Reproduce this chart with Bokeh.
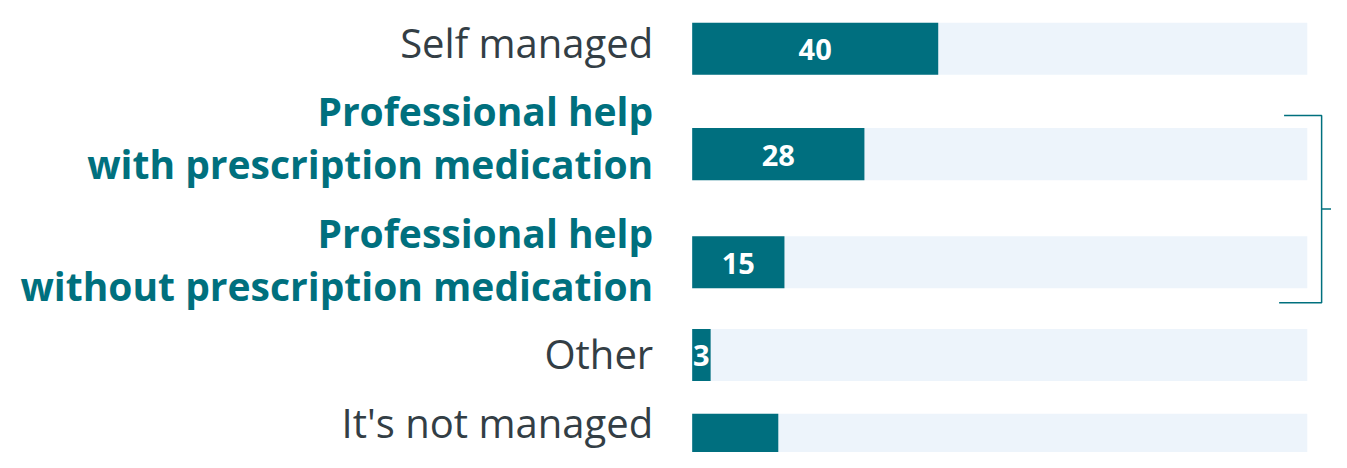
from bokeh.plotting import figure
from bokeh.models import Range1d, ColumnDataSource
from bokeh.core.properties import value
from bokeh.embed import file_html
from bokeh.resources import INLINE

# ---- data ----
categories = [
    ["Self managed"],
    ["Professional help", "with prescription medication"],
    ["Professional help", "without prescription medication"],
    ["Other"],
    ["It's not managed"],
]
values = [40, 28, 15, 3, 14]
value_labels = ["40", "28", "15", "3", ""]
highlighted = [False, True, True, False, False]
scale_max = 100

# ---- layout: design space of the 1347x468 reference view, mapped onto the figure ----
W, H = 1331, 452
REF_W, REF_H = 1347, 468
bar_x0 = 700            # reference x of value 0
px_per_unit = 6.225     # reference px per value unit
row_center = [50, 159, 271, 367, 455]
label_center = [44, 141, 268, 366, 437]
line_gap = 55
bar_h = 54

TEAL = "#006f7f"
TRACK = "#edf4fb"
DARK = "#333e45"
LABEL_TEAL = "#00707e"
FONT = "Open Sans"

x_start = -bar_x0 / px_per_unit
x_end = (REF_W - bar_x0) / px_per_unit


def rx(ref_x):
    return (ref_x - bar_x0) / px_per_unit


p = figure(width=W, height=H, output_backend="svg", toolbar_location=None,
           x_range=Range1d(x_start, x_end), y_range=Range1d(REF_H, 0),
           x_axis_location=None, y_axis_location=None, min_border=0)
p.grid.visible = False
p.outline_line_color = None
p.background_fill_color = "white"
p.border_fill_color = "white"

# tracks and bars
src = ColumnDataSource(dict(y=row_center, v=values, full=[scale_max] * len(values),
                            mid=[v / 2 for v in values], lab=value_labels))
p.hbar(y="y", left=0, right="full", height=bar_h, source=src, fill_color=TRACK, line_color=None)
p.hbar(y="y", left=0, right="v", height=bar_h, source=src, fill_color=TEAL, line_color=None)
p.text(x="mid", y="y", text="lab", source=src, text_align="center", text_baseline="middle",
       text_color="white", text_font=value(FONT), text_font_style="bold",
       text_font_size="29px", y_offset=1)

# category labels (one text per line)
lx, ly, lt, lc, lw, ls = [], [], [], [], [], []
for lines, c, hl in zip(categories, label_center, highlighted):
    n = len(lines)
    for i, line in enumerate(lines):
        lx.append(0)
        ly.append(c + (i - (n - 1) / 2) * line_gap)
        lt.append(line)
        lc.append(LABEL_TEAL if hl else DARK)
        lw.append("bold" if hl else "normal")
        ls.append("39px" if hl else "40px")
lsrc = ColumnDataSource(dict(x=lx, y=ly, t=lt, c=lc, w=lw, s=ls))
p.text(x="x", y="y", text="t", source=lsrc, text_align="right", text_baseline="middle",
       text_color="c", text_font=value(FONT), text_font_style="w",
       text_font_size="s", x_offset=-39)

# bracket grouping the professional-help rows
bx = rx(1337)
top = row_center[1] - 40
bot = row_center[2] + 42
midb = (top + bot) / 2
p.line([rx(1299), bx, bx, rx(1294)], [top, top, bot, bot], line_color=LABEL_TEAL, line_width=1.5)
p.line([bx, rx(1347)], [midb, midb], line_color=LABEL_TEAL, line_width=1.5)

open("out.html", "w").write(file_html(p, INLINE))
